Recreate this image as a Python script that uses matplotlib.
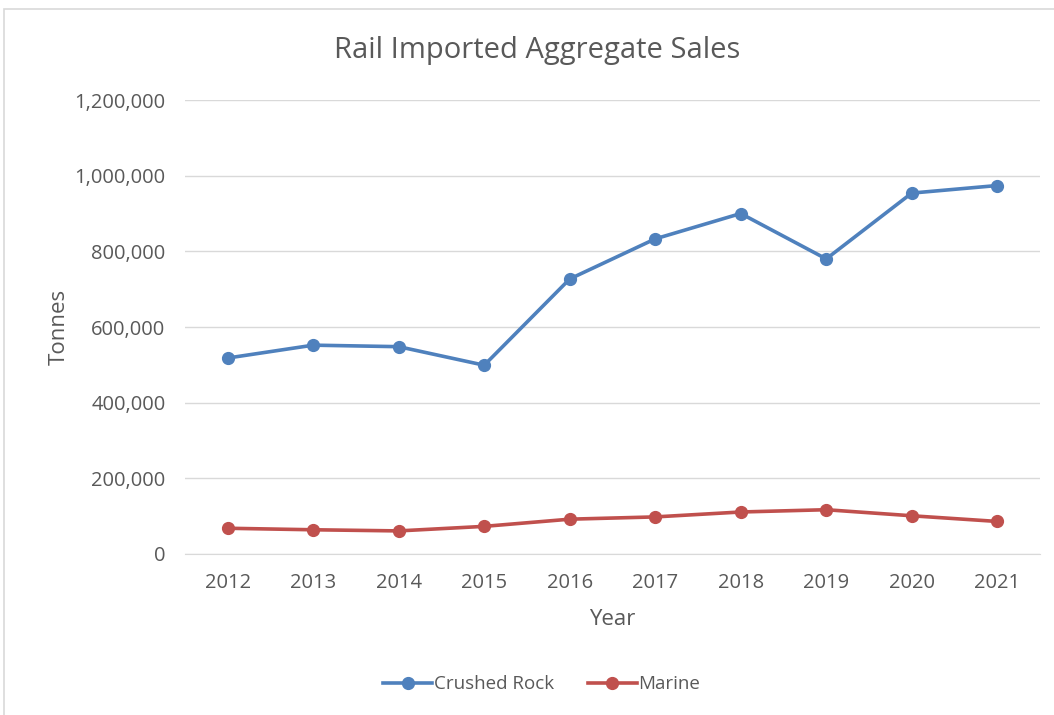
import matplotlib.pyplot as plt
from matplotlib.ticker import FuncFormatter
from matplotlib.patches import Rectangle

plt.rcParams['font.family'] = ['Open Sans', 'DejaVu Sans']

years = ['2012', '2013', '2014', '2015', '2016', '2017', '2018', '2019', '2020', '2021']
crushed_rock = [518000, 552000, 548000, 499000, 727000, 833000, 900000, 780000, 954000, 974000]
marine = [68000, 64000, 61000, 73000, 92000, 98000, 111000, 117000, 101000, 86000]

grey = '#595959'

fig = plt.figure(figsize=(10.54, 7.15), dpi=100)
ax = fig.add_axes([0.1755, 0.2252, 0.8112, 0.6349])

# outer chart border
fig.patches.append(Rectangle((0.004, -0.01), 1.0, 0.998, transform=fig.transFigure,
                             fill=False, edgecolor='#d9d9d9', linewidth=1.2))

x = range(len(years))
ax.plot(x, crushed_rock, color='#4f81bd', linewidth=2.6, marker='o', markersize=8.5,
        label='Crushed Rock')
ax.plot(x, marine, color='#c0504d', linewidth=2.6, marker='o', markersize=8.5,
        label='Marine')

ax.set_xlim(-0.5, len(years) - 0.5)
ax.set_ylim(0, 1200000)
ax.set_yticks(range(0, 1200001, 200000))
ax.yaxis.set_major_formatter(FuncFormatter(lambda v, p: f'{int(v):,}'))
ax.set_xticks(list(x))
ax.set_xticklabels(years)

ax.grid(axis='y', color='#d9d9d9', linewidth=1)
ax.set_axisbelow(True)
for s in ['top', 'right', 'left']:
    ax.spines[s].set_visible(False)
ax.spines['bottom'].set_color('#d9d9d9')
ax.tick_params(axis='y', length=0, labelsize=14.5, labelcolor=grey, pad=14)
ax.tick_params(axis='x', length=0, labelsize=14.5, labelcolor=grey, pad=14)

fig.text(0.51, 0.93, 'Rail Imported Aggregate Sales', fontsize=21, color=grey,
         ha='center', va='center')
ax.set_xlabel('Year', fontsize=16, color=grey, labelpad=11)
ax.set_ylabel('Tonnes', fontsize=16, color=grey, labelpad=3)

fig.legend(loc='center', bbox_to_anchor=(0.514, 0.043), ncol=2, frameon=False,
           fontsize=13.5, labelcolor=grey, handlelength=2.6, handletextpad=0.1,
           columnspacing=1.8)

fig.savefig('out.png', dpi=100)
